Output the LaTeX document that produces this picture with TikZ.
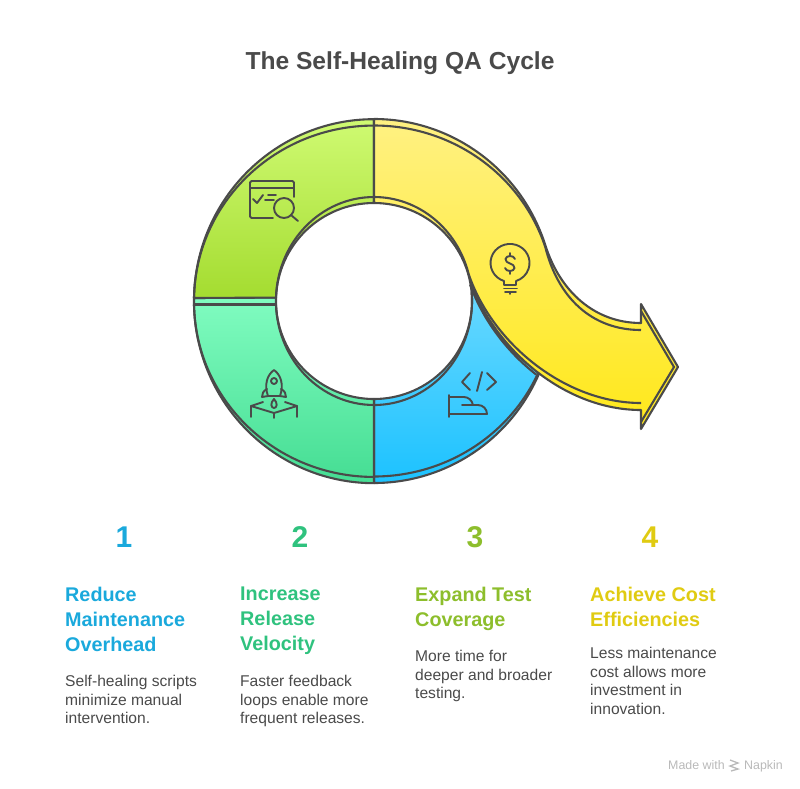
\documentclass[tikz,border=0pt]{standalone}
\usepackage{fontspec}
\setmainfont{Liberation Sans}
\usetikzlibrary{calc}
\definecolor{inkgray}{HTML}{4A4A4A}
\definecolor{footgray}{HTML}{B9B9B9}
\definecolor{numblue}{HTML}{1AA9DC}
\definecolor{numgreen}{HTML}{2FC27E}
\definecolor{numlime}{HTML}{8DBE2C}
\definecolor{numyellow}{HTML}{E0CB12}
\tikzset{
	band/.style={line width=2.1pt, draw=inkgray, line join=round},
	strip/.style={line width=2.1pt, draw=inkgray},
	glyph/.style={line width=1.9pt, draw=inkgray, line cap=round, line join=round},
	numlabel/.style={font=\bfseries\fontsize{30}{36}\selectfont, inner sep=0pt},
	headlabel/.style={font=\bfseries\fontsize{19.8}{25}\selectfont, anchor=north west, align=left, inner sep=0pt},
	bodylabel/.style={font=\fontsize{15.6}{18.6}\selectfont, text=inkgray, anchor=north west, align=left, inner sep=0pt},
	footlabel/.style={font=\fontsize{12.4}{14}\selectfont, text=footgray, inner sep=0pt, anchor=base west},
}

\begin{document}
\begin{tikzpicture}[x=1pt, y=-1pt]
	\useasboundingbox (0, 0) rectangle (800, 788);
	\coordinate (ring) at (374, 301);
	
	%%%%% RING %%%%%
	
	% blue part, goes under the arrow
	\draw[band, top color={rgb,255:red,108;green,217;blue,255}, bottom color={rgb,255:red,28;green,194;blue,255}]
		(374, 483) arc (90:23:180 and 182)
		.. controls (506, 351) and (482, 319) .. ($(ring)+(348:98)$)
		arc (348:450:98) -- cycle;
	\draw[strip] (374, 476.5) arc (90:24:180 and 175.5);
	\draw[strip] (374, 405) arc (90:-5:98 and 104);
	\draw[strip] (470, 284.5) .. controls (482.5, 319) and (506.25, 351.25) .. (536.25, 374.6);
	
	% mint part
	\draw[band, top color={rgb,255:red,128;green,252;blue,192}, bottom color={rgb,255:red,69;green,221;blue,147}]
		(194, 298) arc (181:90:180 and 182)
		-- (374, 399) arc (90:182:98) -- cycle;
	\draw[strip] (194, 304.5) -- (276, 304.5);
	\draw[strip] (194, 304.5) arc (179:90:180 and 175.5);
	\draw[strip] (276, 304.6) arc (178:90:98 and 104);
	
	% lime part
	\draw[band, top color={rgb,255:red,207;green,250;blue,114}, bottom color={rgb,255:red,164;green,220;blue,48}]
		(194, 298) arc (181:270:180 and 182)
		-- (374, 203) arc (270:182:98) -- cycle;
	\draw[strip] (194, 298) arc (181:270:180 and 175.5);
	\draw[strip] (276, 297.4) arc (182:270:98 and 104);
	
	%%%%% ARROW %%%%%
	
	\draw[band, top color={rgb,255:red,255;green,241;blue,130}, bottom color={rgb,255:red,255;green,232;blue,26}]
		(374, 119) arc (270:342:180 and 182)
		.. controls (560, 292) and (595, 323) .. (641, 323)
		-- (641, 304) -- (678, 367) -- (641, 429) -- (641, 410)
		.. controls (565, 410) and (495, 350) .. ($(ring)+(348:98)$)
		arc (348:270:98) -- cycle;
	\draw[strip] (374, 125.5) arc (270:342:180 and 175.5)
		.. controls (558, 298) and (592, 330) .. (641, 330);
	\draw[strip] (374, 197) arc (270:345:98 and 104)
		.. controls (492, 343) and (565, 403) .. (641, 403);
	\draw[strip] (641, 311) -- (674, 367) -- (641, 422);
	
	%%%%% ICONS %%%%%
	
	% window and magnifier
	\draw[glyph, rounded corners=1.5pt] (273, 218) -- (250, 218) -- (250, 181) -- (294, 181) -- (294, 197);
	\draw[glyph] (250, 188) -- (294, 188);
	\draw[glyph] (253, 199) -- (257, 203) -- (263, 195);
	\draw[glyph] (268, 195) -- (276, 195);
	\draw[glyph] (265, 200) -- (274, 200);
	\draw[glyph] (284, 208) circle (10);
	\draw[glyph] (291, 215) -- (298, 221);
	
	% bulb
	\draw[glyph] (504, 285) -- (504, 281) arc (108:432:19.5 and 19) -- (516, 285) -- cycle;
	\draw[glyph] (504, 288.5) -- (517, 288.5);
	\draw[glyph] (505, 292) -- (516, 292);
	\draw[glyph] (510, 292) -- (510, 294);
	\draw[glyph] (515, 259) .. controls (514, 255) and (506, 255) .. (505.5, 259)
		.. controls (505, 264) and (515, 263) .. (514.5, 268)
		.. controls (514, 272) and (506, 272) .. (505, 268);
	\draw[glyph] (510, 253) -- (510, 256);
	\draw[glyph] (510, 271) -- (510, 274);
	
	% code and hand
	\draw[glyph] (470, 373) -- (462, 382) -- (470, 390);
	\draw[glyph] (487, 373) -- (496, 382) -- (487, 390);
	\draw[glyph] (482, 372) -- (477, 391);
	\draw[glyph] (449, 395) -- (449, 417);
	\draw[glyph] (449, 397) -- (464, 397) .. controls (468, 397) and (472, 400) .. (473, 405);
	\draw[glyph] (462, 405) -- (478, 405) .. controls (483, 405) and (487, 409) .. (487, 414) -- (449, 414);
	
	% rocket
	\draw[glyph] (268, 396) .. controls (264, 385) and (267, 375) .. (274, 370)
		.. controls (281, 375) and (284, 385) .. (280, 396) -- cycle;
	\draw[glyph] (274, 381) circle (3);
	\draw[glyph] (267, 389) .. controls (263, 391) and (262, 394) .. (262, 397) -- (268, 396);
	\draw[glyph] (281, 389) .. controls (285, 391) and (286, 394) .. (286, 397) -- (280, 396);
	\draw[glyph] (274, 399) .. controls (270, 403) and (271, 408) .. (274, 408)
		.. controls (277, 408) and (278, 403) .. (274, 399);
	\draw[glyph] (263, 402) -- (251, 406) -- (274, 413) -- (297, 406) -- (285, 402);
	\draw[glyph] (251, 406) -- (251, 417);
	\draw[glyph] (297, 406) -- (297, 417);
	\draw[glyph] (274, 413) -- (274, 418);
	
	%%%%% TEXT %%%%%
	
	\node[font=\bfseries\fontsize{24.6}{30}\selectfont, text=inkgray, inner sep=0pt] (title) at (400, 63) {The Self-Healing QA Cycle};
	
	\node[numlabel, text=numblue] (numone) at (124, 537) {1};
	\node[numlabel, text=numgreen] (numtwo) at (300, 537) {2};
	\node[numlabel, text=numlime] (numthree) at (475, 537) {3};
	\node[numlabel, text=numyellow] (numfour) at (650, 537) {4};
	
	\node[headlabel, text=numblue] (headone) at (65, 587) {Reduce\\Maintenance\\Overhead};
	\node[headlabel, text=numgreen] (headtwo) at (240, 587) {Increase\\Release\\Velocity};
	\node[headlabel, text=numlime] (headthree) at (415, 587) {Expand Test\\Coverage};
	\node[headlabel, text=numyellow] (headfour) at (590, 587) {Achieve Cost\\Efficiencies};
	
	\node[bodylabel] (bodyone) at (65, 675) {Self-healing scripts\\minimize manual\\intervention.};
	\node[bodylabel] (bodytwo) at (240, 675) {Faster feedback\\loops enable more\\frequent releases.};
	\node[bodylabel] (bodythree) at (415, 650) {More time for\\deeper and broader\\testing.};
	\node[bodylabel] (bodyfour) at (590, 647) {Less maintenance\\cost allows more\\investment in\\innovation.};
	
	\node[footlabel] (madewith) at (668, 769) {Made with};
	\node[footlabel] (napkin) at (744, 769) {Napkin};
	\draw[line width=1.3pt, footgray] (730, 760) -- (738, 763) -- (730, 766) -- (738, 769) -- (731, 771);
	
	%%%%% END %%%%%
\end{tikzpicture}
\end{document}
